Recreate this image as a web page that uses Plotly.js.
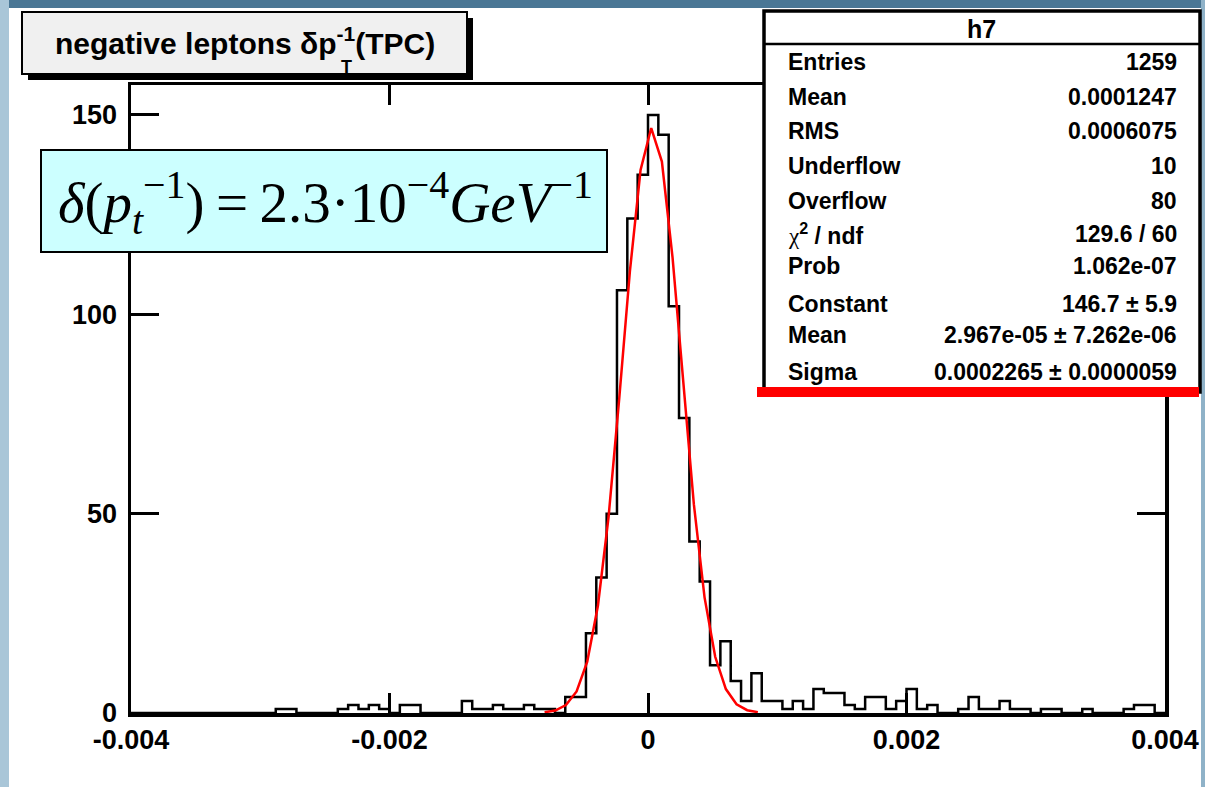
<!DOCTYPE html>
<html><head><meta charset="utf-8">
<script src="https://cdn.plot.ly/plotly-3.0.1.min.js"></script>
<style>html,body{margin:0;padding:0;background:#fff;overflow:hidden}</style>
</head><body><div id="chart" style="width:1205px;height:787px"></div>
<script>
// ---------------- data ----------------
const xMin = -0.004, xMax = 0.004, nBins = 100;
const binCounts = [
  0,0,0,0,0,0,0,0,0,0,          // 0-9
  0,0,0,0,1,1,0,0,0,0,          // 10-19
  1,2,1,2,1,0,2,2,0,0,          // 20-29
  0,0,3,1,1,2,1,1,2,1,          // 30-39
  1,0,4,4,20,34,50,106,124,135, // 40-49
  150,145,102,74,43,33,12,18,8,3, // 50-59
  10,3,3,1,3,1,6,5,5,2,         // 60-69
  1,4,4,1,3,6,1,2,0,0,          // 70-79
  1,4,1,1,3,1,1,0,1,1,          // 80-89
  0,0,1,0,0,0,1,2,2,0           // 90-99
];
const fitX = [-0.0008,-0.0007175,-0.000635,-0.0005525,-0.00047,-0.0003875,-0.000305,-0.0002225,-0.00014,-0.0000575,
              0.000025,0.0001075,0.00019,0.0002725,0.000355,0.0004375,0.00052,0.0006025,0.000685,0.0007675,0.00085];
const fitY = [0.2,0.6,2.0,5.4,12.9,26.9,49.2,78.9,110.8,136.2,146.7,138.3,114.2,82.6,52.3,29.0,14.1,6.0,2.2,0.7,0.2];
const xTickVals = [-0.004,-0.002,0,0.002,0.004];
const xTickText = ['-0.004','-0.002','0','0.002','0.004'];
const yTickVals = [0,50,100,150];
const yTickText = ['0','50','100','150'];
const yMax = 157.5;
const histName = 'h7';
const titleText = 'negative leptons δp<sup>-1</sup>(TPC)';
const titleSub = 'T';
const formulaText = '<i>δ</i>(<i>p</i><sub><i>t</i></sub><sup>−1</sup>)\u2009=\u20092.3·10<sup>−4</sup><i>GeV</i><sup>−1</sup>';
const statLabels = ['Entries','Mean','RMS','Underflow','Overflow',
  '<span style="font-family:Liberation Serif;font-weight:normal">χ</span><sup>2</sup> / ndf',
  'Prob','Constant','Mean','Sigma'];
const statValues = ['1259','0.0001247','0.0006075','10','80','129.6 / 60','1.062e-07',
  '146.7 ± 5.9','2.967e-05 ± 7.262e-06','0.0002265 ± 0.0000059'];

// ---------------- geometry helpers (pixel -> paper) ----------------
const W = 1205, H = 787, L = 131, R = 1165, T = 85, B = 713;
const X = px => (px - L) / (R - L);
const Y = py => (B - py) / (B - T);

const binW = (xMax - xMin) / nBins;
const centers = binCounts.map((_, i) => xMin + (i + 0.5) * binW);
const histX = [xMin].concat(centers, [xMax]);
const histY = [binCounts[0]].concat(binCounts, [binCounts[nBins - 1]]);

const traces = [
  {x: histX, y: histY, type: 'scatter', mode: 'lines',
   line: {shape: 'hvh', color: '#000', width: 2.5}, hoverinfo: 'skip'},
  {x: fitX, y: fitY, type: 'scatter', mode: 'lines',
   line: {color: '#ff0000', width: 2.5}, hoverinfo: 'skip'}
];

function rect(x0, y0, x1, y1, fill, lineColor, lw, layer) {
  return {type: 'rect', xref: 'paper', yref: 'paper', x0: X(x0), x1: X(x1), y0: Y(y1), y1: Y(y0),
    fillcolor: fill, line: {color: lineColor || 'rgba(0,0,0,0)', width: lw || 0}, layer: layer || 'above'};
}
function lineShape(x0, y0, x1, y1, color, w) {
  return {type: 'line', xref: 'paper', yref: 'paper', x0: X(x0), x1: X(x1), y0: Y(y0), y1: Y(y1),
    line: {color: color, width: w}, layer: 'above'};
}
const shapes = [
  // slide background strips
  rect(0, 0, 1205, 8, '#4a7795', null, 0, 'below'),
  rect(0, 0, 9, 787, '#a9c6d8', null, 0, 'below'),
  rect(1201, 0, 1205, 787, '#8fb2c8', null, 0, 'below'),
  // title pave with shadow
  rect(28, 18, 473, 80, '#000'),
  rect(22, 12, 467, 74, '#f0f0f0', '#000', 2),
  // formula box
  rect(41, 150, 607, 252, '#ccffff', '#000', 2),
  // stat box
  rect(764, 11, 1200, 392, '#ffffff', '#000', 3.5),
  lineShape(764, 44, 1200, 44, '#000', 2.5),
  rect(757, 387, 1199, 397, '#ff0000')
];

const annotations = [];
function ann(px, py, text, opt) {
  opt = opt || {};
  annotations.push(Object.assign({
    xref: 'paper', yref: 'paper', x: X(px), y: Y(py), text: text, showarrow: false,
    xanchor: 'center', yanchor: 'middle',
    font: {family: 'Liberation Sans', size: 23, color: '#000', weight: 'bold'}
  }, opt));
}
ann(245, 41, titleText, {font: {family: 'Liberation Sans', size: 30, color: '#000', weight: 'bold'}});
ann(346, 67, titleSub, {font: {family: 'Liberation Sans', size: 18, color: '#000', weight: 'bold'}});
ann(325, 203, formulaText, {font: {family: 'Liberation Serif', size: 57, color: '#000'}});
ann(981, 29, histName, {font: {family: 'Liberation Sans', size: 25, color: '#000', weight: 'bold'}});
const rowY = [62, 97, 131, 166, 201, 234, 266, 304, 335, 372];
statLabels.forEach((s, i) => ann(786, rowY[i], s, {xanchor: 'left'}));
statValues.forEach((s, i) => ann(1179, rowY[i], s, {xanchor: 'right'}));

const tickFont = {family: 'Liberation Sans', size: 27, color: '#000', weight: 'bold'};
const layout = {
  width: W, height: H,
  margin: {l: L, r: W - R, t: T, b: H - B, pad: 0},
  paper_bgcolor: '#ffffff', plot_bgcolor: '#ffffff',
  showlegend: false,
  xaxis: {range: [xMin, xMax], tickmode: 'array', tickvals: xTickVals, ticktext: xTickText,
    ticks: 'inside', ticklen: 20, tickwidth: 3, tickcolor: '#000',
    showline: true, linewidth: 3.5, linecolor: '#000', mirror: 'allticks',
    showgrid: false, zeroline: false, tickfont: tickFont, ticklabelstandoff: 0, fixedrange: true},
  yaxis: {range: [0, yMax], tickmode: 'array', tickvals: yTickVals, ticktext: yTickText,
    ticks: 'inside', ticklen: 28, tickwidth: 3, tickcolor: '#000',
    showline: true, linewidth: 3.5, linecolor: '#000', mirror: 'allticks',
    showgrid: false, zeroline: false, tickfont: tickFont, ticklabelstandoff: 5, fixedrange: true},
  shapes: shapes,
  annotations: annotations
};
Plotly.newPlot('chart', traces, layout, {displayModeBar: false, staticPlot: true});
</script></body></html>
